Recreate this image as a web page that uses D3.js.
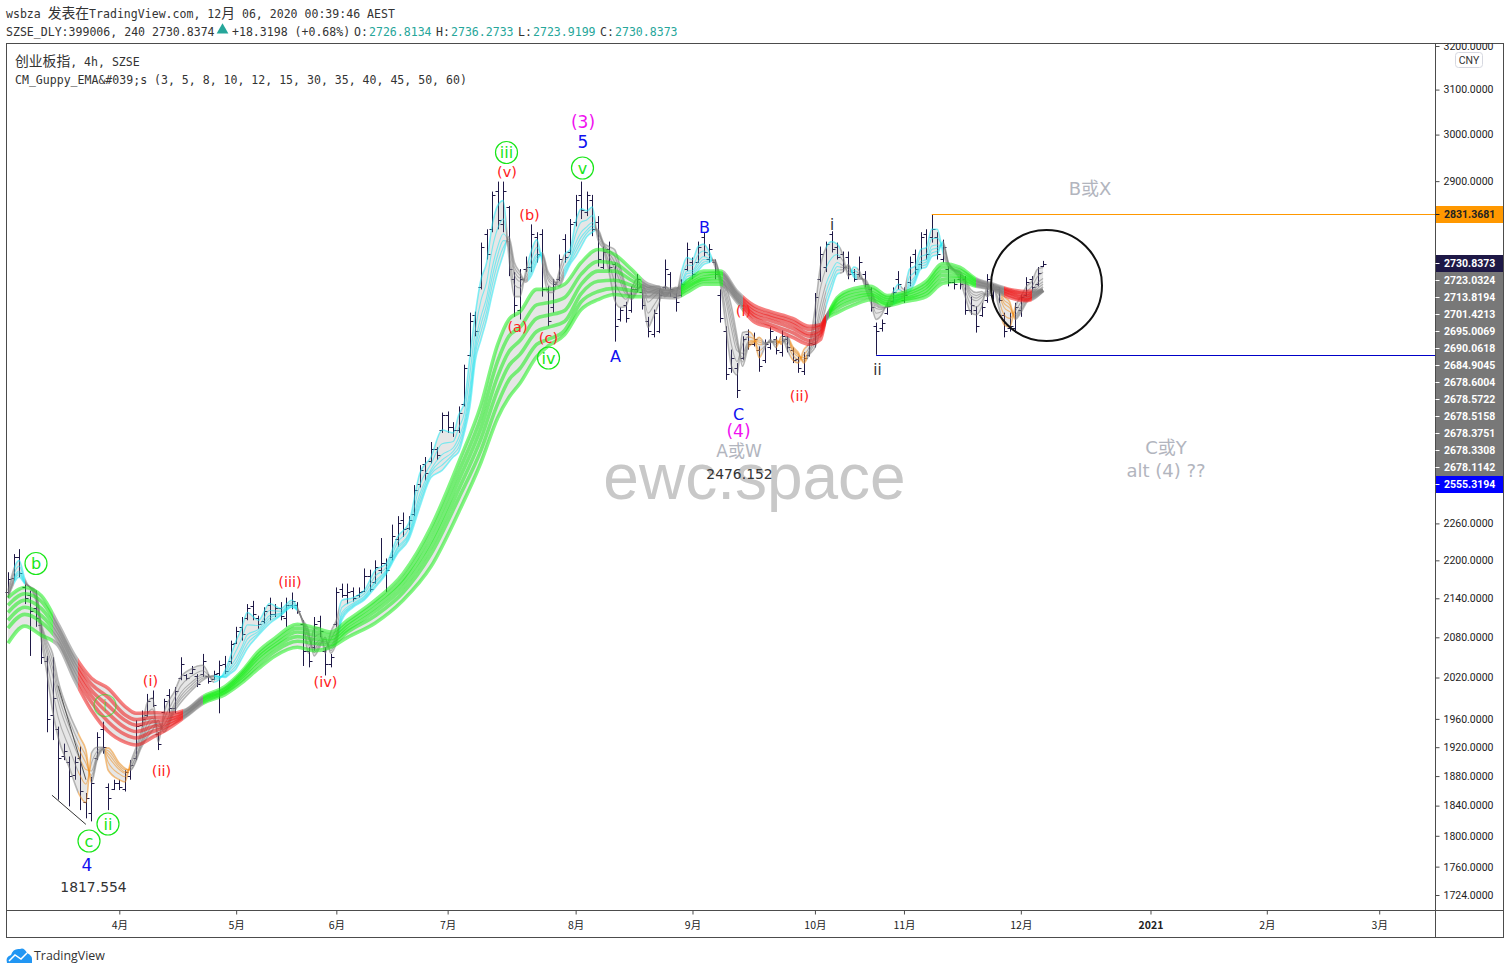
<!DOCTYPE html>
<html>
<head>
<meta charset="utf-8">
<title>创业板指</title>
<script src="https://cdnjs.cloudflare.com/ajax/libs/d3/7.8.5/d3.min.js"></script>
<style>
	html, body { margin: 0; padding: 0; background: #fff; }
	svg { display: block; }
	.mono { font-family: "DejaVu Sans Mono", "Noto Sans CJK SC", monospace; font-size: 11.55px; fill: #333; }
	.mono tspan.cjk { font-size: 13.8px; font-family: "Noto Sans CJK SC", sans-serif; }
	.note { font-family: "DejaVu Sans", "Noto Sans CJK SC", sans-serif; text-anchor: middle; dominant-baseline: central; }
	.yaxis text { font-family: Roboto, sans-serif; font-size: 10.5px; fill: #222; }
	.xaxis text { font-family: "Noto Sans CJK SC", sans-serif; font-size: 10.5px; fill: #222; }
	.yaxis path, .xaxis path { display: none; }
	.yaxis line, .xaxis line { stroke: #4c4c4c; }
</style>
</head>
<body>
<div id="chart"></div>
<script>
var monthTickBars = [20, 41, 59, 79, 102, 123, 145, 161, 182, 205.3, 226.2, 246.4];
var monthTickNames = ["4月", "5月", "6月", "7月", "8月", "9月", "10月", "11月", "12月", "2021", "2月", "3月"];
var priceTicks = [3200, 3100, 3000, 2900, 2260, 2200, 2140, 2080, 2020, 1960, 1920, 1880, 1840, 1800, 1760, 1724];

//one value per bar (bar 0 is the left most one)
var highs = [
	2181,2210,2218,2162,2152,2152,2101,2052,2050,1949,
	1925,1907,1907,1921,1857,1879,1941,1956,1870,1875,
	1875,1888,1902,1958,1972,1996,2001,1941,1989,2003,
	2006,2050,2025,2037,2025,2055,2025,2030,2045,2052,
	2075,2096,2111,2131,2136,2113,2126,2141,2131,2134,
	2141,2149,2134,2106,2065,2111,2113,2065,2055,2157,
	2163,2163,2157,2157,2187,2185,2200,2236,2203,2258,
	2272,2278,2272,2324,2358,2372,2398,2389,2450,2452,
	2433,2461,2537,2635,2637,2773,2800,2878,2899,2899,
	2848,2714,2720,2745,2810,2794,2800,2686,2700,2749,
	2790,2821,2871,2899,2878,2871,2827,2765,2775,2733,
	2645,2656,2686,2710,2680,2627,2641,2680,2739,2714,
	2673,2700,2773,2743,2775,2794,2770,2739,2680,2609,
	2565,2540,2590,2603,2597,2571,2584,2607,2590,2601,
	2590,2569,2552,2560,2584,2673,2765,2775,2796,2773,
	2755,2755,2720,2745,2716,2684,2616,2622,2654,2684,
	2716,2684,2745,2759,2794,2800,2831,2794,2779,2726,
	2700,2710,2706,2666,2647,2654,2710,2690,2684,2635,
	2635,2654,2670,2704,2706,2724,2736.27
];
var lows = [
	2141,2168,2173,2131,2052,2096,2040,1941,1930,1848,
	1902,1839,1875,1834,1823,1819,1902,1911,1834,1861,
	1861,1859,1875,1902,1949,1963,1977,1916,1968,1968,
	1968,2016,2016,2025,2006,2021,2011,2016,1968,2025,
	2040,2070,2075,2106,2106,2093,2101,2106,2111,2106,
	2096,2123,2116,2037,2035,2060,2080,2023,2035,2096,
	2141,2131,2135,2141,2150,2150,2163,2179,2150,2200,
	2222,2238,2249,2272,2320,2332,2361,2367,2414,2414,
	2407,2414,2461,2552,2590,2680,2739,2794,2800,2794,
	2706,2627,2622,2714,2714,2733,2666,2609,2635,2696,
	2733,2749,2806,2821,2827,2786,2725,2720,2714,2580,
	2618,2616,2635,2675,2641,2588,2588,2596,2680,2666,
	2637,2666,2716,2700,2733,2745,2733,2700,2616,2509,
	2522,2476.15,2546,2565,2571,2524,2540,2565,2556,2552,
	2560,2540,2522,2518,2552,2569,2695,2714,2753,2739,
	2714,2700,2695,2704,2684,2637,2555.32,2599,2631,2654,
	2680,2654,2686,2708,2720,2739,2773,2739,2733,2686,
	2680,2680,2631,2631,2597,2627,2654,2660,2654,2588,
	2599,2597,2627,2666,2673,2686,2723.92
];
var opens = [
	2150,2172,2205,2158,2145,2125,2098,2045,1965,1945,
	1908,1900,1882,1905,1845,1830,1905,1945,1865,1863,
	1870,1862,1880,1905,1952,1965,1990,1938,1970,1995,
	1975,2020,2024,2027,2022,2025,2022,2018,2026,2040,
	2045,2072,2095,2110,2128,2110,2105,2130,2115,2125,
	2110,2130,2130,2100,2060,2065,2105,2060,2040,2100,
	2155,2145,2152,2145,2152,2175,2165,2185,2195,2205,
	2235,2265,2252,2275,2325,2360,2365,2385,2420,2445,
	2425,2420,2465,2555,2630,2685,2790,2800,2880,2810,
	2845,2700,2640,2720,2725,2785,2790,2680,2645,2700,
	2780,2755,2815,2870,2835,2860,2815,2725,2760,2730,
	2622,2650,2640,2680,2675,2620,2595,2600,2685,2710,
	2665,2670,2720,2735,2735,2785,2740,2735,2670,2600,
	2530,2530,2550,2595,2575,2565,2545,2570,2585,2560,
	2585,2565,2548,2525,2555,2575,2700,2725,2790,2765,
	2750,2745,2715,2710,2710,2680,2610,2605,2635,2658,
	2700,2660,2695,2750,2730,2790,2785,2785,2740,2720,
	2695,2700,2700,2640,2640,2630,2660,2670,2680,2630,
	2605,2605,2640,2670,2700,2690,2726.81
];
var closes = [
	2170,2205,2180,2140,2120,2110,2050,1960,1990,1905,
	1915,1880,1900,1860,1850,1870,1935,1920,1850,1870,
	1865,1885,1895,1950,1960,1985,1980,1925,1985,1975,
	2000,2040,2020,2032,2010,2045,2015,2025,2038,2030,
	2070,2090,2085,2125,2115,2100,2120,2115,2125,2112,
	2130,2135,2120,2060,2045,2100,2090,2040,2050,2150,
	2145,2150,2140,2150,2175,2155,2190,2195,2185,2240,
	2260,2250,2265,2315,2350,2345,2385,2375,2445,2425,
	2420,2450,2530,2620,2600,2765,2750,2870,2820,2880,
	2720,2650,2700,2725,2790,2750,2680,2620,2690,2740,
	2745,2810,2860,2840,2870,2800,2740,2755,2725,2610,
	2640,2625,2680,2700,2650,2600,2635,2670,2720,2680,
	2655,2690,2760,2710,2765,2755,2760,2710,2625,2520,
	2550,2490,2585,2575,2585,2535,2575,2600,2565,2590,
	2570,2545,2530,2550,2578,2665,2750,2770,2760,2745,
	2725,2710,2700,2735,2690,2645,2600,2615,2648,2675,
	2690,2670,2735,2720,2785,2750,2800,2750,2765,2695,
	2690,2690,2640,2650,2610,2645,2700,2680,2660,2600,
	2610,2645,2665,2695,2685,2712.5,2730.84
];

//fast ribbon rows: bar, then EMA 3, 5, 8, 10, 12, 15 at that bar
var fastRows = [
	[0,2152,2148,2145,2143,2142,2140],[2,2200,2191,2183,2180,2177,2173],[3,2171,2168,2166,2165,2164,2163],
	[5,2137,2142,2146,2148,2150,2152],[6,2075,2084,2090,2094,2097,2100],[7,2026,2043,2056,2063,2069,2075],
	[8,1972,2001,2024,2035,2045,2056],[9,1934,1963,1985,1996,2005,2016],[11,1892,1919,1939,1949,1958,1968],
	[13,1852,1880,1902,1913,1922,1933],[14,1844,1869,1889,1898,1907,1916],[15,1912,1898,1887,1881,1876,1871],
	[16,1920,1914,1909,1907,1904,1902],[17,1920,1919,1918,1917,1917,1916],[18,1888,1899,1907,1911,1915,1919],
	[20,1875,1883,1889,1892,1895,1898],[21,1872,1879,1884,1886,1889,1891],[22,1898,1895,1892,1891,1889,1888],
	[24,1944,1936,1929,1926,1923,1920],[25,1983,1966,1953,1946,1940,1934],[26,1990,1974,1961,1956,1950,1944],
	[27,1927,1938,1946,1950,1954,1958],[28,1968,1959,1951,1948,1945,1941],[30,2001,1991,1983,1979,1976,1972],
	[31,2020,2007,1997,1992,1988,1983],[33,2033,2022,2013,2009,2005,2001],[35,2038,2030,2024,2021,2019,2016],
	[37,2013,2017,2019,2021,2022,2023],[39,2030,2026,2024,2022,2021,2020],[40,2052,2043,2036,2033,2029,2026],
	[41,2075,2060,2049,2043,2038,2033],[42,2094,2078,2065,2060,2054,2048],[43,2118,2099,2084,2077,2070,2063],
	[45,2106,2098,2092,2089,2086,2083],[47,2132,2121,2113,2109,2105,2101],[49,2124,2120,2117,2116,2114,2113],
	[51,2137,2133,2130,2129,2127,2126],[52,2126,2124,2123,2122,2122,2121],[53,2101,2103,2104,2105,2105,2106],
	[54,2056,2068,2078,2082,2086,2091],[55,2094,2079,2068,2062,2057,2052],[56,2095,2085,2076,2072,2069,2065],
	[57,2056,2064,2071,2074,2077,2080],[58,2088,2077,2068,2064,2060,2056],[59,2106,2094,2084,2080,2076,2071],
	[60,2137,2126,2118,2114,2110,2106],[62,2141,2136,2132,2130,2128,2126],[64,2152,2147,2143,2141,2139,2137],
	[66,2184,2175,2167,2164,2160,2157],[68,2195,2189,2185,2183,2181,2179],[70,2238,2229,2221,2218,2214,2211],
	[72,2260,2251,2243,2240,2237,2233],[74,2344,2324,2309,2301,2294,2287],[76,2372,2360,2350,2346,2342,2337],
	[78,2419,2395,2376,2367,2358,2349],[80,2414,2399,2388,2382,2377,2372],[81,2446,2423,2406,2397,2389,2381],
	[82,2468,2449,2435,2427,2421,2414],[83,2552,2520,2495,2483,2472,2460],[84,2635,2604,2580,2568,2558,2546],
	[85,2700,2659,2628,2613,2599,2584],[86,2733,2694,2664,2650,2636,2622],[87,2808,2760,2722,2704,2688,2670],
	[88,2849,2802,2765,2748,2732,2714],[89,2859,2821,2791,2777,2763,2749],[90,2745,2759,2770,2775,2780,2785],
	[91,2666,2689,2708,2716,2724,2733],[92,2666,2683,2696,2702,2708,2714],[93,2714,2707,2702,2699,2697,2694],
	[94,2755,2738,2725,2718,2712,2706],[95,2779,2763,2750,2745,2739,2733],[96,2733,2740,2745,2748,2750,2753],
	[97,2674,2689,2700,2706,2711,2716],[98,2674,2683,2690,2694,2697,2700],[99,2714,2704,2697,2693,2690,2686],
	[100,2749,2734,2722,2717,2712,2706],[101,2759,2749,2740,2737,2733,2729],[102,2815,2790,2772,2762,2754,2745],
	[103,2842,2815,2794,2784,2775,2765],[104,2838,2819,2805,2798,2792,2785],[105,2846,2828,2814,2807,2801,2794],
	[106,2779,2786,2792,2795,2797,2800],[107,2759,2764,2768,2769,2771,2773],[108,2714,2732,2746,2752,2758,2765],
	[109,2660,2695,2721,2734,2746,2759],[110,2645,2673,2695,2705,2715,2725],[111,2647,2661,2671,2676,2681,2686],
	[112,2680,2673,2668,2665,2663,2660],[113,2700,2691,2684,2680,2677,2674],[114,2674,2680,2684,2686,2688,2690],
	[115,2607,2634,2655,2665,2674,2684],[116,2628,2648,2664,2672,2678,2686],[117,2654,2665,2674,2678,2682,2686],
	[118,2686,2679,2674,2671,2669,2666],[120,2670,2675,2679,2681,2682,2684],[121,2714,2702,2693,2688,2684,2680],
	[122,2743,2728,2716,2711,2705,2700],[123,2739,2727,2717,2713,2709,2704],[124,2765,2748,2735,2728,2722,2716],
	[125,2770,2756,2745,2739,2734,2729],[126,2755,2747,2741,2738,2736,2733],[127,2726,2731,2734,2736,2737,2739],
	[128,2690,2696,2700,2702,2704,2706],[129,2609,2636,2657,2667,2676,2686],[130,2534,2574,2604,2619,2632,2647],
	[131,2518,2543,2563,2572,2581,2590],[132,2597,2575,2558,2550,2542,2534],[133,2599,2589,2580,2577,2573,2569],
	[134,2590,2586,2583,2581,2580,2578],[135,2550,2563,2574,2579,2583,2588],[136,2569,2572,2575,2576,2577,2578],
	[137,2584,2582,2580,2580,2579,2578],[138,2569,2574,2578,2580,2582,2584],[139,2590,2585,2581,2579,2577,2575],
	[140,2565,2574,2581,2584,2587,2590],[141,2546,2555,2562,2565,2568,2571],[142,2540,2547,2552,2555,2557,2560],
	[143,2565,2556,2550,2546,2543,2540],[144,2578,2570,2564,2562,2559,2556],[145,2641,2616,2596,2587,2578,2569],
	[146,2726,2683,2650,2634,2619,2603],[147,2763,2722,2691,2676,2662,2647],[148,2775,2742,2716,2704,2692,2680],
	[149,2770,2749,2733,2725,2718,2710],[150,2749,2737,2727,2723,2719,2714],[151,2706,2714,2720,2723,2726,2729],
	[152,2724,2717,2712,2709,2707,2704],[153,2716,2710,2706,2704,2702,2700],[154,2684,2690,2694,2696,2698,2700],
	[155,2656,2664,2671,2674,2677,2680],[156,2622,2634,2643,2648,2652,2656],[157,2631,2637,2641,2643,2645,2647],
	[158,2654,2651,2648,2647,2646,2645],[159,2674,2666,2659,2656,2653,2650],[160,2690,2680,2671,2668,2664,2660],
	[161,2680,2675,2671,2670,2668,2666],[162,2720,2705,2693,2687,2682,2676],[163,2726,2715,2706,2702,2698,2694],
	[164,2759,2745,2735,2730,2725,2720],[165,2763,2749,2739,2734,2729,2724],[166,2800,2781,2766,2759,2752,2745],
	[167,2800,2782,2768,2762,2756,2749],[168,2753,2761,2767,2770,2772,2775],[169,2724,2727,2730,2731,2732,2733],
	[170,2716,2717,2718,2719,2719,2720],[171,2700,2706,2710,2712,2714,2716],[172,2666,2678,2687,2692,2696,2700],
	[173,2635,2651,2663,2669,2674,2680],[174,2631,2646,2658,2663,2668,2674],[175,2647,2657,2665,2669,2672,2676],
	[176,2686,2679,2674,2671,2669,2666],[177,2686,2684,2682,2682,2681,2680],[178,2647,2660,2670,2675,2679,2684],
	[179,2612,2631,2645,2653,2659,2666],[180,2607,2624,2637,2644,2650,2656],[181,2647,2638,2631,2628,2625,2622],
	[182,2666,2655,2647,2643,2639,2635],[183,2686,2675,2666,2662,2658,2654],[184,2696,2686,2677,2673,2670,2666],
	[185,2720,2705,2693,2687,2682,2676],[186,2723.03,2713.82,2701.42,2695.01,2690.06,2684.90]
];

//slow ribbon rows: bar, then EMA 30, 35, 40, 45, 50, 60 at that bar
var slowRows = [
	[0,2141,2129,2118,2106,2094,2071],[3,2157,2147,2137,2126,2115,2097],[6,2144,2135,2124,2113,2103,2083],
	[9,2100,2094,2088,2081,2075,2068],[12,2052,2045,2039,2032,2024,2016],[15,2019,2010,2001,1993,1984,1972],
	[18,2004,1991,1979,1968,1956,1942],[21,1978,1966,1958,1948,1938,1927],[23,1968,1959,1951,1942,1933,1923],
	[26,1969,1962,1956,1949,1942,1934],[29,1968,1963,1959,1955,1951,1947],[32,1973,1972,1969,1968,1965,1964],
	[35,1992,1990,1988,1987,1984,1982],[39,2007,2004,2002,2000,1998,1995],[42,2029,2026,2023,2020,2016,2012],
	[45,2059,2054,2050,2045,2039,2033],[48,2079,2074,2069,2065,2059,2052],[52,2100,2094,2088,2081,2074,2065],
	[55,2095,2089,2083,2077,2071,2060],[58,2088,2083,2078,2074,2069,2065],[61,2106,2101,2097,2092,2088,2080],
	[66,2137,2132,2126,2120,2113,2102],[71,2179,2171,2165,2157,2149,2137],[76,2254,2243,2231,2221,2210,2190],
	[81,2363,2347,2332,2317,2302,2279],[85,2464,2442,2423,2404,2384,2363],[88,2575,2544,2516,2491,2466,2441],
	[90,2622,2590,2561,2535,2509,2477],[92,2637,2607,2582,2556,2530,2503],[95,2680,2650,2624,2599,2575,2552],
	[97,2680,2654,2630,2607,2584,2571],[100,2690,2664,2639,2618,2601,2593],[103,2733,2710,2690,2672,2656,2641],
	[106,2759,2735,2716,2696,2676,2660],[109,2749,2731,2716,2698,2682,2670],[112,2720,2708,2698,2688,2678,2666],
	[115,2690,2686,2682,2678,2674,2666],[120,2680,2676,2674,2670,2668,2664],[122,2696,2692,2688,2684,2680,2674],
	[125,2716,2710,2704,2700,2696,2690],[128,2716,2712,2708,2702,2696,2690],[131,2676,2672,2668,2664,2660,2656],
	[134,2649,2643,2637,2631,2626,2618],[137,2637,2631,2626,2620,2612,2607],[141,2624,2618,2612,2605,2597,2588],
	[144,2609,2603,2595,2590,2582,2575],[146,2612,2609,2603,2597,2592,2584],[147,2626,2626,2626,2624,2624,2622],
	[149,2664,2660,2654,2649,2643,2635],[152,2682,2676,2670,2664,2658,2650],[155,2686,2680,2674,2670,2666,2660],
	[158,2668,2664,2660,2656,2652,2649],[161,2674,2670,2666,2662,2660,2656],[165,2696,2690,2684,2678,2672,2666],
	[168,2731,2724,2716,2708,2700,2692],[171,2724,2718,2712,2706,2702,2696],[174,2700,2698,2694,2692,2688,2686],
	[177,2690,2688,2686,2684,2682,2680],[180,2680,2678,2674,2672,2668,2664],[183,2676,2672,2668,2664,2660,2658],
	[186,2678.60,2678.57,2678.52,2678.38,2678.33,2678.11]
];

//where the ribbon colour changes: first bar of the stretch and its state
var fastStates = [
	[0,"flat"],[1,"up"],[3,"flat"],[12.5,"down"],[15,"flat"],[17.5,"down"],[22,"flat"],[37,"up"],[52,"flat"],
	[59.5,"up"],[89.5,"flat"],[93.5,"up"],[96,"flat"],[100,"up"],[105.5,"flat"],[121,"up"],[126.5,"flat"],
	[133,"down"],[135.5,"flat"],[138,"down"],[139,"flat"],[140.5,"down"],[143.5,"flat"],[147,"up"],[149.5,"flat"],
	[151.5,"up"],[152.5,"flat"],[159,"up"],[160.5,"flat"],[161.5,"up"],[168,"flat"],[178.5,"down"],[181,"flat"]
];
var slowStates = [
	[0,"up"],[8,"flat"],[12.5,"down"],[31.5,"flat"],[35,"up"],[114,"flat"],[121,"up"],[128.5,"flat"],[132,"down"],
	[147,"flat"],[147.5,"up"],[174,"flat"],[179,"down"],[184,"flat"]
];
var stateColors = { up: "#18f018", down: "#f01818", flat: "#808080" };
var fastColors = { up: "#20e8f4", down: "#f09020", flat: "#808080" };

//labels stacked on the price axis, the first one sits at its own price, last price starts the stack
var alertPrice = 2831.3681;
var lastPrice = 2730.8373;
var emaLabels = ["2723.0324", "2713.8194", "2701.4213", "2695.0069", "2690.0618", "2684.9045",
	"2678.6004", "2678.5722", "2678.5158", "2678.3751", "2678.3308", "2678.1142"];
var supportPrice = 2555.3194;

var width = 1510, height = 974;
var svg = d3.select("#chart").append("svg").attr("width", width).attr("height", height);
var defs = svg.append("defs");

var plotLeft = 6.5, plotRight = 1435.5, plotTop = 43.5, plotBottom = 910.5, frameRight = 1503.5, frameBottom = 937.5;
var lastBar = 186;

var x = d3.scaleLinear().domain([0, lastBar]).range([8, 8 + 5.565 * lastBar]);
var y = d3.scaleLog().domain([1724, 3200]).range([895, 46]);

function addGradient(id, states, colors)
{
	var grad = defs.append("linearGradient")
		.attr("id", id)
		.attr("gradientUnits", "userSpaceOnUse")
		.attr("x1", x(0)).attr("x2", x(lastBar))
		.attr("y1", 0).attr("y2", 0);
	states.forEach(function(s, k) {
		var to = k + 1 < states.length ? states[k + 1][0] : lastBar;
		grad.append("stop").attr("offset", s[0] / lastBar).attr("stop-color", colors[s[1]]);
		grad.append("stop").attr("offset", to / lastBar).attr("stop-color", colors[s[1]]);
	});
}
addGradient("fastGrad", fastStates, fastColors);
addGradient("slowGrad", slowStates, stateColors);

//the OHLC bars go first, the ribbons cover them
var barColor = "#1e1846";
var bars = svg.append("g").attr("class", "bars").attr("stroke", barColor).attr("fill", "none");
bars.selectAll("path").data(highs).enter().append("path")
	.attr("d", function(d, i) {
		var cx = Math.round(x(i)) + 0.5;
		return "M" + cx + "," + y(highs[i]) + "V" + y(lows[i])
			+ "M" + (cx - 3) + "," + (Math.round(y(opens[i])) + 0.5) + "H" + cx
			+ "M" + cx + "," + (Math.round(y(closes[i])) + 0.5) + "H" + (cx + 3);
	});

function drawRibbon(rows, gradId, lineWidth, edgeWidth, lineOpacity)
{
	var g = svg.append("g");
	var k;
	for (k = 1; k < 6; k++) {
		(function(col) {
			var area = d3.area()
				.curve(d3.curveMonotoneX)
				.x(function(r) { return x(r[0]); })
				.y0(function(r) { return y(r[col]); })
				.y1(function(r) { return y(r[col + 1]); });
			g.append("path").attr("d", area(rows)).attr("fill", "#808080").attr("fill-opacity", 0.2);
		})(k);
	}
	for (k = 1; k <= 6; k++) {
		(function(col) {
			var line = d3.line()
				.curve(d3.curveMonotoneX)
				.x(function(r) { return x(r[0]); })
				.y(function(r) { return y(r[col]); });
			g.append("path").attr("d", line(rows))
				.attr("fill", "none")
				.attr("stroke", "url(#" + gradId + ")")
				.attr("stroke-width", (col == 1 || col == 6) ? edgeWidth : lineWidth)
				.attr("stroke-opacity", lineOpacity);
		})(k);
	}
}
drawRibbon(fastRows, "fastGrad", 1.1, 1.6, 0.55);
drawRibbon(slowRows, "slowGrad", 3.6, 3.6, 0.55);

//horizontal levels and hand drawn lines
svg.append("line").attr("x1", x(166)).attr("x2", plotRight)
	.attr("y1", Math.round(y(alertPrice)) + 0.5).attr("y2", Math.round(y(alertPrice)) + 0.5)
	.attr("stroke", "#ff9800");
svg.append("line").attr("x1", x(156)).attr("x2", plotRight)
	.attr("y1", Math.round(y(supportPrice)) + 0.5).attr("y2", Math.round(y(supportPrice)) + 0.5)
	.attr("stroke", "#0000c8");
svg.append("line").attr("x1", x(7.9)).attr("y1", y(1854)).attr("x2", x(14)).attr("y2", y(1815))
	.attr("stroke", "#333");
svg.append("line").attr("x1", x(9)).attr("y1", y(2008)).attr("x2", x(14)).attr("y2", y(1875))
	.attr("stroke", "#555");
svg.append("circle").attr("cx", 1046.5).attr("cy", 285.5).attr("r", 55.5)
	.attr("fill", "none").attr("stroke", "#111").attr("stroke-width", 2);

//wave labels
function note(txt, px, py, color, size, anchorOpacity)
{
	return svg.append("text").attr("class", "note")
		.attr("x", px).attr("y", py)
		.attr("fill", color).attr("font-size", size)
		.attr("fill-opacity", anchorOpacity === undefined ? 1 : anchorOpacity)
		.text(txt);
}
function circled(txt, px, py, opacity)
{
	svg.append("circle").attr("cx", px).attr("cy", py).attr("r", 11)
		.attr("fill", "none").attr("stroke", "#19e619").attr("stroke-width", 1.2)
		.attr("stroke-opacity", opacity === undefined ? 1 : opacity);
	note(txt, px, py, "#19e619", 16, opacity);
}
var red = "#ff2020", blue = "#1010f0", magenta = "#f010f0", grey = "#b2b5be", dark = "#333";

circled("b", 36, 563.5);
circled("ii", 108, 824);
circled("c", 89, 841);
circled("iii", 506.5, 152.5);
circled("v", 582.5, 168);
circled("iv", 548.5, 358);
circled("i", 105, 705.5, 0.55);

note("(i)", 150.5, 681, red, 14.5);
note("(ii)", 161.5, 771, red, 14.5);
note("(iii)", 290, 582, red, 14.5);
note("(iv)", 325.5, 682, red, 14.5);
note("(v)", 507, 172, red, 14.5);
note("(a)", 517.5, 327, red, 14.5);
note("(b)", 529.5, 215, red, 14.5);
note("(c)", 548.5, 338, red, 14.5);
note("(i)", 743.5, 311, red, 14.5);
note("(ii)", 799.5, 396, red, 14.5);

note("4", 87, 865, blue, 17);
note("5", 583, 141.5, blue, 17);
note("A", 615.5, 356.5, blue, 16);
note("B", 704.5, 227, blue, 16);
note("C", 738.5, 414, blue, 16);
note("(3)", 583, 121.5, magenta, 17);
note("(4)", 738.5, 430.5, magenta, 17);
note("i", 832, 225, dark, 15);
note("ii", 877.5, 370, dark, 15);
note("1817.554", 93.5, 886.5, dark, 13.9);

note("B或X", 1090, 188, grey, 18);
note("C或Y", 1166, 447.5, grey, 18);
note("alt (4) ??", 1166, 470.5, grey, 18);
note("A或W", 739, 450.5, grey, 17);
svg.append("text").attr("x", 754.5).attr("y", 499)
	.attr("text-anchor", "middle")
	.attr("font-family", "'Liberation Sans', sans-serif")
	.attr("font-size", 64).attr("fill", "#c8c8c8")
	.text("ewc.space");
note("2476.152", 739.5, 473.5, dark, 13.9);

//frame and axes
svg.append("rect").attr("x", plotLeft).attr("y", plotTop)
	.attr("width", frameRight - plotLeft).attr("height", frameBottom - plotTop)
	.attr("fill", "none").attr("stroke", "#4c4c4c");
svg.append("line").attr("x1", plotLeft).attr("x2", frameRight).attr("y1", plotBottom).attr("y2", plotBottom).attr("stroke", "#4c4c4c");
svg.append("line").attr("x1", plotRight).attr("x2", plotRight).attr("y1", plotTop).attr("y2", frameBottom).attr("stroke", "#4c4c4c");

//clip is in the axis group's own coordinates
defs.append("clipPath").attr("id", "axisClip").append("rect")
	.attr("x", 0).attr("y", plotTop).attr("width", frameRight - plotRight).attr("height", plotBottom - plotTop);

var yAxis = d3.axisRight(y)
	.tickValues(priceTicks)
	.tickSize(4)
	.tickPadding(4)
	.tickFormat(d3.format(".4f"));
svg.append("g").attr("class", "yaxis")
	.attr("clip-path", "url(#axisClip)")
	.attr("transform", "translate(" + plotRight + ",0)")
	.call(yAxis);

var xAxis = d3.axisBottom(x)
	.tickValues(monthTickBars)
	.tickSize(4)
	.tickPadding(7)
	.tickFormat(function(d, i) { return monthTickNames[i]; });
var xg = svg.append("g").attr("class", "xaxis")
	.attr("transform", "translate(0," + plotBottom + ")")
	.call(xAxis);
xg.selectAll("text").filter(function(d, i) { return monthTickNames[i] == "2021"; }).attr("font-weight", "bold");

//price labels on the right
function priceBox(txt, cy, bg, fg)
{
	var g = svg.append("g");
	g.append("rect").attr("x", plotRight + 0.5).attr("y", cy - 8.5).attr("width", frameRight - plotRight - 1).attr("height", 17).attr("fill", bg);
	g.append("line").attr("x1", plotRight).attr("x2", plotRight + 4).attr("y1", cy).attr("y2", cy).attr("stroke", fg);
	g.append("text").attr("x", plotRight + 8.5).attr("y", cy).attr("dy", "0.34em")
		.attr("font-family", "Roboto, sans-serif").attr("font-size", 10.5).attr("font-weight", 700)
		.attr("fill", fg).text(txt);
}
var lastY = Math.round(y(lastPrice)) - 0.5;
priceBox(alertPrice.toFixed(4), Math.round(y(alertPrice)) + 0.5, "#ff9800", "#222");
priceBox(lastPrice.toFixed(4), lastY, "#1e1846", "#fff");
emaLabels.forEach(function(t, i) {
	priceBox(t, lastY + 17 * (i + 1), "#787878", "#fff");
});
priceBox(supportPrice.toFixed(4), lastY + 17 * (emaLabels.length + 1), "#0000ff", "#fff");

//currency button
svg.append("rect").attr("x", 1455.5).attr("y", 52.5).attr("width", 27).attr("height", 15).attr("rx", 3)
	.attr("fill", "#fff").attr("stroke", "#d6d8e0");
svg.append("text").attr("x", 1469).attr("y", 63.5).attr("text-anchor", "middle")
	.attr("font-family", "Roboto, sans-serif").attr("font-size", 10.5).attr("fill", "#333").text("CNY");

//header, the chinese glyphs are a bit bigger than the mono ones
function monoLine(parts, px, py)
{
	var t = svg.append("text").attr("class", "mono").attr("x", px).attr("y", py).attr("xml:space", "preserve");
	parts.forEach(function(p, i) {
		t.append("tspan").attr("class", i % 2 == 1 ? "cjk" : null).text(p);
	});
}
monoLine(["wsbza\u00a0", "发表在", "TradingView.com,\u00a012", "月", "\u00a006,\u00a02020\u00a000:39:46\u00a0AEST"], 6, 18);
monoLine(["", "创业板指", ",\u00a04h,\u00a0SZSE"], 15, 66);
monoLine(["CM_Guppy_EMA&#039;s (3, 5, 8, 10, 12, 15, 30, 35, 40, 45, 50, 60)"], 15, 84);

var teal = "#26a69a";
function headerBit(txt, px, color)
{
	svg.append("text").attr("class", "mono").attr("x", px).attr("y", 36).style("fill", color || "#333").text(txt);
}
headerBit("SZSE_DLY:399006, 240 2730.8374", 6);
svg.append("path").attr("d", d3.symbol().type(d3.symbolTriangle).size(60)()).attr("transform", "translate(222.5,30)").attr("fill", teal);
headerBit("+18.3198 (+0.68%)", 232);
headerBit("O:", 354);
headerBit("2726.8134", 369, teal);
headerBit("H:", 436);
headerBit("2736.2733", 451, teal);
headerBit("L:", 518);
headerBit("2723.9199", 533, teal);
headerBit("C:", 600);
headerBit("2730.8373", 615, teal);

//logo
svg.append("path")
	.attr("d", "M7,963 Q5,957 11,955 Q13,948 20,949 Q24,947 27,953 Q33,955 32,963 Z")
	.attr("fill", "#2196f3");
svg.append("path")
	.attr("d", "M9,961 L15,955 L21,959 L27,953")
	.attr("fill", "none").attr("stroke", "#fff").attr("stroke-width", 1.5);
svg.append("text").attr("x", 34).attr("y", 960)
	.attr("font-family", "'Open Sans', sans-serif").attr("font-size", 12.4).attr("fill", "#333")
	.text("TradingView");
</script>
</body>
</html>
